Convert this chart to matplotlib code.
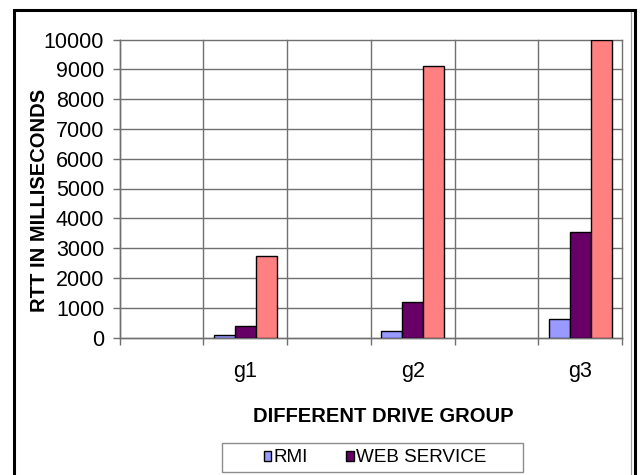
import numpy as np
import matplotlib.pyplot as plt
from matplotlib.patches import Patch, Rectangle

# category slots on the x axis; blank slots stay empty
categories = ['', 'g1', '', 'g2', '', 'g3']
rmi_ms = [None, 80, None, 220, None, 620]
web_service_ms = [None, 370, None, 1200, None, 3550]
third_ms = [None, 2730, None, 9120, None, 10000]
y_ticks = list(range(0, 10001, 1000))

series = [
    ('RMI', rmi_ms, '#9999FF'),
    ('WEB SERVICE', web_service_ms, '#660066'),
    ('_third', third_ms, '#FF8080'),
]

GRID = '#707070'
FONT = 'Liberation Sans'
plt.rcParams['font.family'] = FONT

fig = plt.figure(figsize=(6.4, 4.75), dpi=100)
ax = fig.add_axes([119.5 / 640, 1 - 337.5 / 475, 502.5 / 640, 298 / 475])

bar_w = 0.25
offsets = [-bar_w, 0, bar_w]
for (name, vals, color), off in zip(series, offsets):
    xs = [i + off for i, v in enumerate(vals) if v is not None]
    hs = [v for v in vals if v is not None]
    ax.bar(xs, hs, width=bar_w, color=color, edgecolor='black', linewidth=1.0,
           zorder=3)

ax.set_xlim(-0.5, len(categories) - 0.5)
ax.set_ylim(0, 10000)
ax.set_yticks(y_ticks)
ax.set_yticklabels([str(t) for t in y_ticks], fontsize=15.5)
ax.set_xticks(range(len(categories)))
ax.set_xticklabels(categories, fontsize=15.5)
ax.set_xticks(np.arange(-0.5, len(categories)), minor=True)

ax.tick_params(axis='y', length=5, width=1, color=GRID, pad=6)
ax.tick_params(axis='x', which='major', length=0, pad=17)
ax.tick_params(axis='x', which='minor', length=5, width=1, color=GRID)

ax.grid(axis='y', color=GRID, linewidth=1, zorder=0)
ax.grid(axis='x', which='minor', color=GRID, linewidth=1, zorder=0)
for t in ax.xaxis.get_minor_ticks() + ax.yaxis.get_major_ticks():
    t.gridline.set_clip_on(False)
for side in ['top', 'right']:
    ax.spines[side].set_visible(False)
for side in ['left', 'bottom']:
    ax.spines[side].set_color(GRID)
    ax.spines[side].set_linewidth(1)

fig.text(40 / 640, 1 - 200 / 475, 'RTT IN MILLISECONDS', rotation=90,
         fontsize=14.5, fontweight='bold', ha='center', va='center')
fig.text(383 / 640, 1 - 416 / 475, 'DIFFERENT DRIVE GROUP',
         fontsize=14.5, fontweight='bold', ha='center', va='center')

# legend box drawn separately for the wide Excel-style padding
fig.patches.append(Rectangle((222 / 640, 1 - 472 / 475), 301 / 640, 29 / 475,
                             transform=fig.transFigure, facecolor='white',
                             edgecolor='#8c8c8c', linewidth=1))
handles = [Patch(facecolor=c, edgecolor='black', linewidth=1, label=n)
           for n, _, c in series[:2]]
fig.legend(handles=handles, loc='center', bbox_to_anchor=(375 / 640, 1 - 458 / 475),
           ncol=2, frameon=False, fontsize=13.6, handlelength=0.42,
           handleheight=0.42, handletextpad=0.12, columnspacing=2.0,
           borderpad=0)

# outer chart frame
fig.patches.append(Rectangle((14 / 640, -0.1), 621 / 640, 1.1 - 10 / 475,
                             transform=fig.transFigure, facecolor='none',
                             edgecolor='black', linewidth=2.2, zorder=10))
fig.patches.append(Rectangle((631 / 640, -0.1), 0, 1.1 - 12 / 475,
                             transform=fig.transFigure, facecolor='none',
                             edgecolor='#a0a0a0', linewidth=0.8, zorder=10))

fig.savefig('out.png', dpi=100)
